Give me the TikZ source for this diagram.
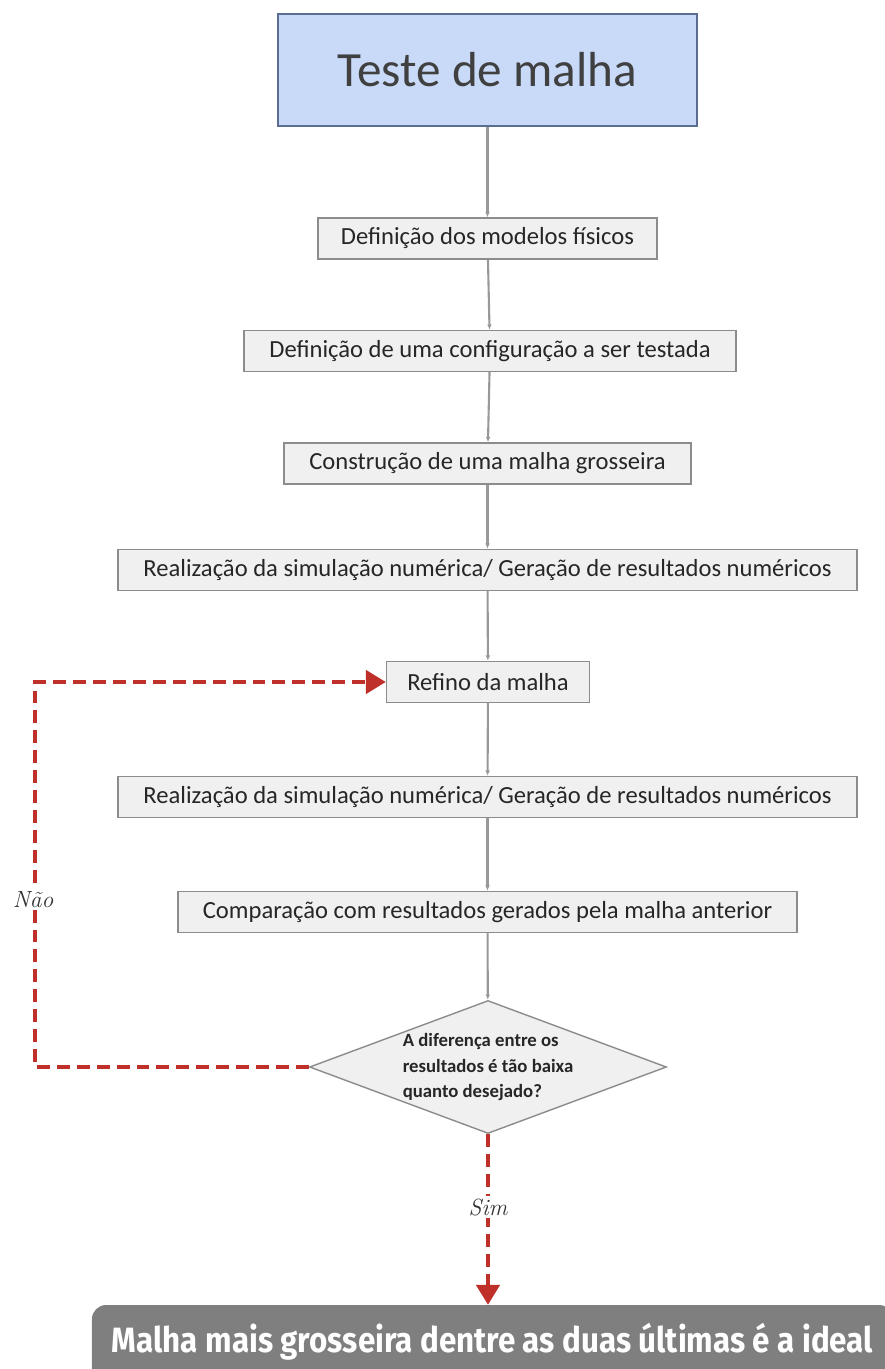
\documentclass[tikz,border=0pt]{standalone}
\usepackage{fontspec}
\usepackage{graphicx}
\setmainfont{Carlito}
\newfontfamily\rotulofont{Fira Sans}
\newfontfamily\lmfont{Latin Modern Roman}
\usetikzlibrary{arrows.meta,shapes.geometric}

\definecolor{azulcx}{HTML}{C9DAF8}
\definecolor{bordacx}{HTML}{5B6E91}
\definecolor{cinzacx}{HTML}{F0F0F0}
\definecolor{vermelho}{HTML}{C0302B}
\definecolor{cinzafim}{HTML}{7F7F7F}

\begin{document}
\begin{tikzpicture}[x=0.03cm,y=-0.03cm,
  etapa/.style={draw=gray!90,line width=1.2pt,fill=cinzacx,minimum height=1.23cm,
    inner sep=0pt,font=\fontsize{21}{25}\selectfont,text=black!85},
  liga/.style={draw=gray!80,line width=1.8pt,-{Latex[length=1.6mm,width=1.4mm]}},
  laco/.style={draw=vermelho,line width=3.4pt,dash pattern=on 11pt off 6pt,
    -{Triangle[length=6mm,width=7mm]}},
  resp/.style={fill=white,inner sep=2pt,font=\lmfont\itshape\fontsize{20}{22}\selectfont,text=black!80}]
  \useasboundingbox (0,0) rectangle (884,1369);
  % titulo
  \node[draw=bordacx,line width=1.5pt,fill=azulcx,minimum width=12.57cm,minimum height=3.36cm,
    font=\fontsize{42}{48}\selectfont,text=black!75] (titulo) at (487.5,70) {Teste de malha};
  % etapas
  \node[etapa,minimum width=10.17cm] (fisicos) at (487.5,238.5) {Definição dos modelos físicos};
  \node[etapa,minimum width=14.76cm] (config) at (490,351) {Definição de uma configuração a ser testada};
  \node[etapa,minimum width=12.21cm] (grossa) at (487.5,463.5) {Construção de uma malha grosseira};
  \node[etapa,minimum width=22.17cm] (sim1) at (487.5,570) {Realização da simulação numérica/ Geração de resultados numéricos};
  \node[etapa,minimum width=6.09cm] (refino) at (488,682) {Refino da malha};
  \node[etapa,minimum width=22.17cm] (sim2) at (487.5,797) {Realização da simulação numérica/ Geração de resultados numéricos};
  \node[etapa,minimum width=18.57cm] (compara) at (487.5,912) {Comparação com resultados gerados pela malha anterior};
  % decisao
  \node[diamond,aspect=2.68,draw=gray!90,line width=1.2pt,fill=cinzacx,minimum width=10.71cm,minimum height=3.99cm,
    inner sep=-0.25cm,align=left,font=\bfseries\fontsize{16}{21.5}\selectfont,text=black!85]
    (decisao) at (488,1067) {A diferença entre os\\resultados é tão baixa\\quanto desejado?};
  % resultado final
  \node[fill=cinzafim,rounded corners=12pt,minimum width=24.03cm,inner xsep=0pt,inner ysep=0pt,
    text height=1.41cm,text depth=1.14cm,text=white,anchor=base] (ideal) at (492.5,1352)
    {\resizebox{22.83cm}{\height}{\rotulofont\bfseries\fontsize{30}{36}\selectfont Malha mais grosseira dentre as duas últimas é a ideal}};
  % ligacoes
  \draw[liga] (titulo) -- (fisicos);
  \draw[liga] (fisicos) -- (config);
  \draw[liga] (config) -- (grossa);
  \draw[liga] (grossa) -- (sim1);
  \draw[liga] (sim1) -- (refino);
  \draw[liga] (refino) -- (sim2);
  \draw[liga] (sim2) -- (compara);
  \draw[liga] (compara) -- (decisao);
  % laco de refino
  \coordinate (canto) at (35,1067);
  \draw[laco] (decisao.west) -- (canto) |- (refino.west);
  \node[resp] (nao) at (33,900) {Não};
  \draw[laco] (decisao.south) -- (ideal.north -| decisao.south);
  \node[resp] (sim) at (488,1207) {Sim};
\end{tikzpicture}
\end{document}
